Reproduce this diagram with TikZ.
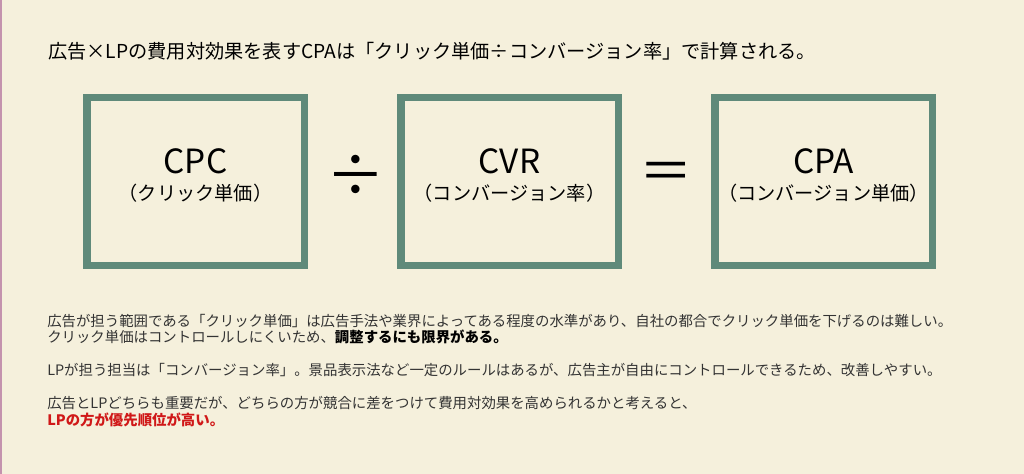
\documentclass[tikz,border=0pt]{standalone}
\usepackage{fontspec}
\setmainfont{Noto Sans CJK JP}
\usepackage{tikz}
\definecolor{bgbeige}{HTML}{F5F0DC}
\definecolor{boxgreen}{HTML}{5F8A7A}
\definecolor{edgepink}{HTML}{C493AE}
\definecolor{txtgray}{HTML}{333333}
\definecolor{emred}{HTML}{D01818}
\tikzset{
	termbox/.style={draw=boxgreen, line width=5.5pt, minimum width=163pt, minimum height=126pt, inner sep=0pt},
	bodyline/.style={anchor=west, inner sep=0pt, font=\fontsize{10.8pt}{12pt}\selectfont, text=txtgray},
}
\begin{document}
\begin{tikzpicture}[x=0.75pt, y=-0.75pt]
	\fill[bgbeige] (0,0) rectangle (1024,474);
	\fill[edgepink] (0,0) rectangle (2,474);
	\useasboundingbox (0,0) rectangle (1024,474);
	\node[anchor=west, inner sep=0pt, font=\fontsize{14.4pt}{16pt}\selectfont] (title) at (48,51) {広告×LPの費用対効果を表すCPAは「クリック単価÷コンバージョン率」で計算される。};
	\node[termbox] (cpc) at (195.5,181.5) {};
	\node[termbox] (cvr) at (509.5,181.5) {};
	\node[termbox] (cpa) at (823.5,181.5) {};
	\node[font=\fontsize{25pt}{27pt}\selectfont] (cpct) at (195.5,161) {CPC};
	\node[font=\fontsize{14.4pt}{16pt}\selectfont] (cpcs) at (195.5,193) {（クリック単価）};
	\node[font=\fontsize{25pt}{27pt}\selectfont] (cvrt) at (509.5,161) {CVR};
	\node[font=\fontsize{14.4pt}{16pt}\selectfont] (cvrs) at (509.5,193) {（コンバージョン率）};
	\node[font=\fontsize{25pt}{27pt}\selectfont] (cpat) at (823.5,161) {CPA};
	\node[font=\fontsize{14.4pt}{16pt}\selectfont] (cpas) at (823.5,193) {（コンバージョン単価）};
	\node[font=\fontsize{44pt}{44pt}\selectfont] (div) at (356,176) {÷};
	\node[font=\fontsize{40pt}{40pt}\selectfont] (eq) at (666,176) {＝};
	\node[bodyline] (l1) at (47,321) {広告が担う範囲である「クリック単価」は広告手法や業界によってある程度の水準があり、自社の都合でクリック単価を下げるのは難しい。};
	\node[bodyline] (l2) at (47,337) {クリック単価はコントロールしにくいため、\textbf{\color{black}調整するにも限界がある。}};
	\node[bodyline] (l3) at (47,370) {LPが担う担当は「コンバージョン率」。景品表示法など一定のルールはあるが、広告主が自由にコントロールできるため、改善しやすい。};
	\node[bodyline] (l4) at (47,403) {広告とLPどちらも重要だが、どちらの方が競合に差をつけて費用対効果を高められるかと考えると、};
	\node[bodyline, text=emred, font=\fontsize{10.8pt}{12pt}\selectfont\bfseries] (l5) at (47,420) {LPの方が優先順位が高い。};
\end{tikzpicture}
\end{document}
